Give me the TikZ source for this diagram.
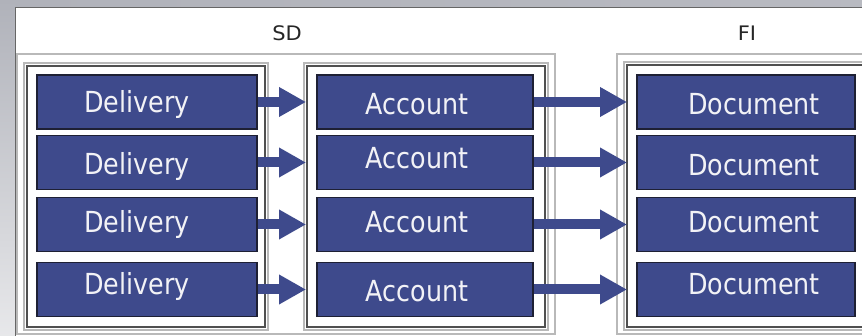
\documentclass[tikz,border=0pt]{standalone}
\usepackage{fontspec}
\usepackage{graphicx}
\setmainfont{DejaVu Sans}
\usetikzlibrary{arrows.meta}
\definecolor{boxblue}{RGB}{62,74,140}
\definecolor{boxedge}{RGB}{30,32,52}
\definecolor{lightframe}{RGB}{185,185,185}
\definecolor{darkframe}{RGB}{80,80,80}
\definecolor{bggrey}{RGB}{176,178,186}
\definecolor{txt}{RGB}{242,242,246}
% raise, horizontal shift, text
\newcommand{\lbl}[3]{\raisebox{#1}{\kern#2\scalebox{0.875}[1]{#3}\kern-#2}}
\begin{document}
\begin{tikzpicture}[x=1pt,y=-1pt,
  objbox/.style={draw=boxedge,line width=1.6pt,fill=boxblue,text=txt,
    minimum height=54pt,font=\fontsize{29}{29}\selectfont,
    text height=21pt,text depth=0pt,inner sep=0pt},
  delbox/.style={objbox,minimum width=220pt},
  accbox/.style={objbox,minimum width=216pt},
  docbox/.style={objbox,minimum width=218pt},
  outerframe/.style={draw=lightframe,line width=1.3pt},
  innerframe/.style={draw=darkframe,line width=1.5pt},
  flow/.style={draw=boxblue,line width=10pt,-{Triangle[length=27pt,width=28pt]}},
  head/.style={text=black!85,font=\fontsize{20}{20}\selectfont,inner sep=0pt}]
\useasboundingbox (0,0) rectangle (862,336);
% background
\shade[top color=bggrey, bottom color=bggrey!30] (0,0) rectangle (15,336);
\shade[left color=bggrey, right color=bggrey!90] (15,0) rectangle (862,8);
\fill[white] (15,8) rectangle (862,336);
\draw[black!60,line width=1pt] (15,336) -- (15,8) -- (862,8);
% group frames
\draw[outerframe] (17,54) rectangle (555,334);
\draw[outerframe] (617,54) rectangle (870,334);
\draw[outerframe] (24,63) rectangle (268,330);
\draw[innerframe] (27,66) rectangle (265,327);
\draw[outerframe] (304,63) rectangle (548,330);
\draw[innerframe] (307,66) rectangle (545,327);
\draw[outerframe] (624,62) rectangle (880,330);
\draw[innerframe] (627,65) rectangle (880,327);
% headers
\node[head] (sd) at (287,33) {\scalebox{1.05}[1]{SD}};
\node[head] (fi) at (747,33) {\scalebox{1.05}[1]{FI}};
% column edge coordinates
\coordinate (accw) at (306,0);
\coordinate (docw) at (627,0);
% nodes
\node[delbox] (d1) at (147,102) {\lbl{0pt}{-10pt}{Delivery}};
\node[delbox] (d2) at (147,162.5) {\lbl{-2pt}{-10pt}{Delivery}};
\node[delbox] (d3) at (147,224.5) {\lbl{2pt}{-10pt}{Delivery}};
\node[delbox] (d4) at (147,289.5) {\lbl{5pt}{-10pt}{Delivery}};
\node[accbox] (a1) at (425,102) {\lbl{-2pt}{-8pt}{Account}};
\node[accbox] (a2) at (425,162.5) {\lbl{4pt}{-8pt}{Account}};
\node[accbox] (a3) at (425,224.5) {\lbl{2pt}{-8pt}{Account}};
\node[accbox] (a4) at (425,289.5) {\lbl{-2pt}{-8pt}{Account}};
\node[docbox] (c1) at (746,102) {\lbl{-2pt}{8pt}{Document}};
\node[docbox] (c2) at (746,162.5) {\lbl{-3pt}{8pt}{Document}};
\node[docbox] (c3) at (746,224.5) {\lbl{2pt}{8pt}{Document}};
\node[docbox] (c4) at (746,289.5) {\lbl{5pt}{8pt}{Document}};
% arrows
\foreach \i in {1,2,3,4}{
  \draw[flow] (d\i.east) -- (d\i -| accw);
  \draw[flow] (a\i.east) -- (a\i -| docw);
}
\end{tikzpicture}
\end{document}
